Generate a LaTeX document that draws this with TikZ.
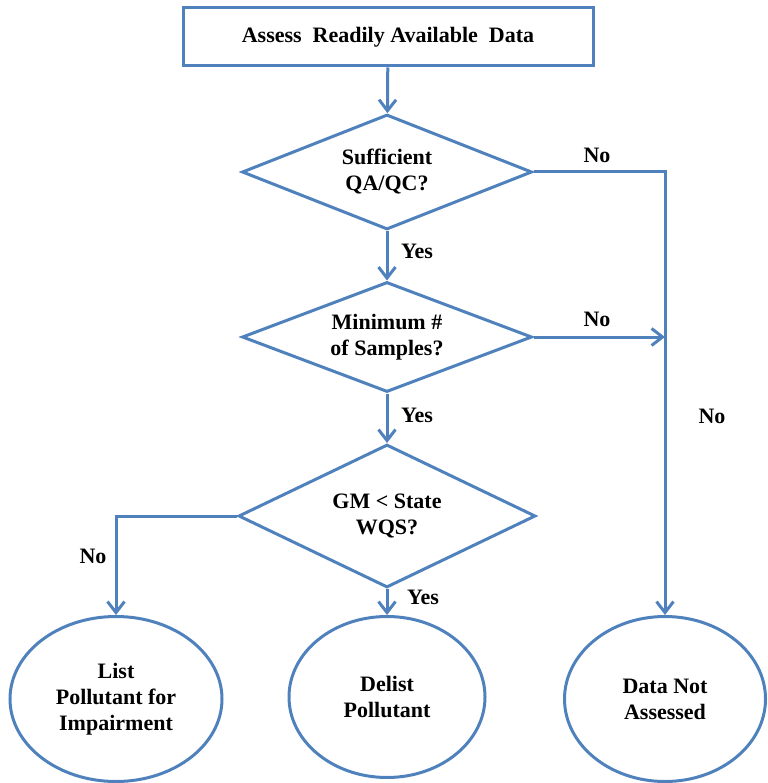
\documentclass[tikz,border=0pt]{standalone}
\usepackage{fontspec}
\setmainfont{Liberation Serif}
\usetikzlibrary{shapes.geometric,arrows.meta}
\definecolor{flowblue}{RGB}{79,129,189}
\tikzset{
  box/.style={rectangle, draw=flowblue, line width=3pt, minimum width=410pt, minimum height=58pt},
  ask/.style={diamond, draw=flowblue, line width=3pt, aspect=2.5, inner sep=0pt, align=center},
  stop/.style={ellipse, draw=flowblue, line width=3pt, inner sep=0pt, align=center},
  flow/.style={draw=flowblue, line width=3pt, -{Straight Barb[length=11pt,width=17pt]}},
  lbl/.style={inner sep=0pt}
}

\begin{document}
\begin{tikzpicture}[x=1pt, y=-1pt, font=\fontsize{22}{26}\selectfont\bfseries]
\useasboundingbox (0,0) rectangle (767,783);

\node[box] (v0) at (388,37) {Assess\ \ Readily\ Available\ \ Data};
\node[ask, minimum width=290pt, minimum height=115pt] (v1) at (387,172) {Sufficient\\QA/QC?};
\node[ask, minimum width=290pt, minimum height=110pt] (v2) at (387,337) {Minimum \#\\of Samples?};
\node[ask, minimum width=297pt, minimum height=143pt] (v3) at (387,516) {GM < State\\WQS?};
\node[stop, minimum width=212pt, minimum height=165pt] (v4) at (116,699) {List\\Pollutant for\\Impairment};
\node[stop, minimum width=196pt, minimum height=161pt] (v5) at (387,697) {Delist\\Pollutant};
\node[stop, minimum width=201pt, minimum height=165pt] (v6) at (665,699) {Data Not\\Assessed};

\coordinate (c1) at (665,172);
\coordinate (c2) at (665,337);
\coordinate (c3) at (116,516);

\draw[flow] (v0) -- (v1);
\draw[flow] (v1) -- (v2);
\draw[flow] (v2) -- (v3);
\draw[flow] (v3) -- (v5);
\draw[flow] (v1.east) -- (c1) -- (v6.north);
\draw[flow] (v2.east) -- (c2);
\draw[flow] (v3.west) -- (c3) -- (v4.north);

\node[lbl] (y1) at (417,251) {Yes};
\node[lbl] (y2) at (417,415) {Yes};
\node[lbl] (y3) at (423,597) {Yes};
\node[lbl] (n1) at (597,155) {No};
\node[lbl] (n2) at (597,319) {No};
\node[lbl] (n3) at (712,416) {No};
\node[lbl] (n4) at (93,556) {No};

\end{tikzpicture}
\end{document}
